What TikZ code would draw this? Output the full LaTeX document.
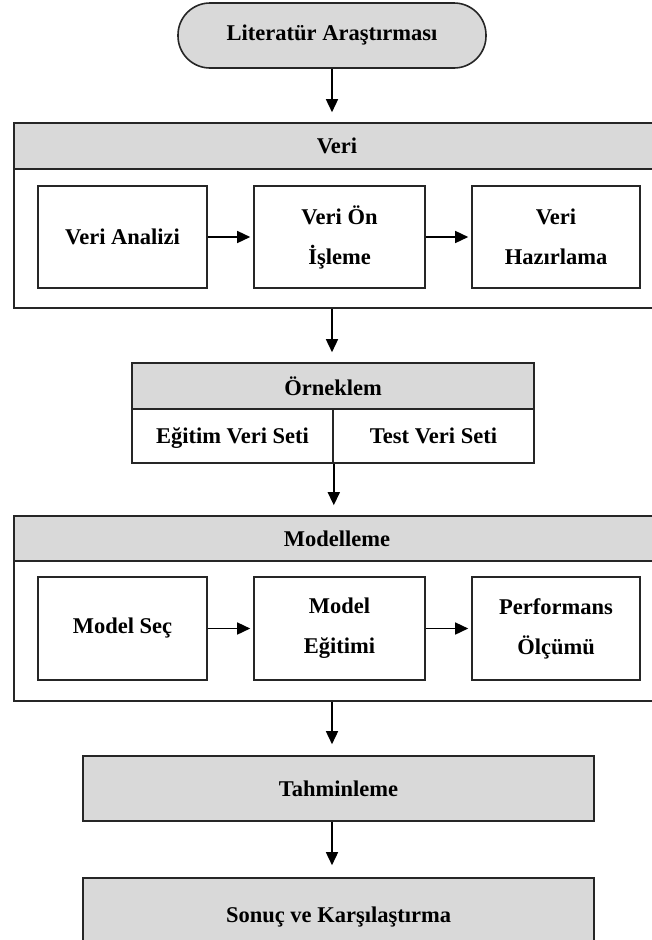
\documentclass[tikz,border=0pt]{standalone}
\usepackage{fontspec}
\setmainfont{Liberation Serif}
\usetikzlibrary{arrows.meta}
\definecolor{boxgray}{HTML}{D9D9D9}
\newcommand{\lbl}{\fontsize{22.5}{40}\selectfont\bfseries}
\tikzset{
  graybox/.style={draw=black!85, line width=1.6pt, fill=boxgray, inner sep=0pt, align=center, font=\lbl},
  whitebox/.style={draw=black!85, line width=1.6pt, fill=white, inner sep=0pt, align=center, font=\lbl},
  flow/.style={line width=1.5pt, -{Triangle[width=12pt,length=13pt]}}
}
\begin{document}
\begin{tikzpicture}[x=1pt, y=-1pt]
            \useasboundingbox (0,0) rectangle (651,940);
            % Start
            \node[graybox, rounded corners=32pt, minimum width=308pt, minimum height=65pt] (lit) at (332,35.5) {Literatür Araştırması};
            % Veri
            \node[graybox, minimum width=646pt, minimum height=46pt] (veriH) at (337,146) {Veri};
            \node[whitebox, minimum width=646pt, minimum height=139pt] (veriB) at (337,238.5) {};
            \node[whitebox, minimum width=169pt, minimum height=102pt] (analiz) at (122.5,237) {Veri Analizi};
            \node[whitebox, minimum width=171pt, minimum height=102pt] (onisle) at (339.5,237) {Veri Ön\\İşleme};
            \node[whitebox, minimum width=168pt, minimum height=102pt] (hazir) at (556,237) {Veri\\Hazırlama};
            % Örneklem
            \node[graybox, minimum width=402pt, minimum height=46pt] (ornH) at (333,386) {Örneklem};
            \node[whitebox, minimum width=201pt, minimum height=54pt, text height=15pt, text depth=0pt] (egitim) at (232.5,436) {Eğitim Veri Seti};
            \node[whitebox, minimum width=201pt, minimum height=54pt, text height=15pt, text depth=0pt] (test) at (433.5,436) {Test Veri Seti};
            % Modelleme
            \node[graybox, minimum width=646pt, minimum height=45pt] (modH) at (337,538.5) {Modelleme};
            \node[whitebox, minimum width=646pt, minimum height=140pt] (modB) at (337,631) {};
            \node[whitebox, minimum width=169pt, minimum height=103pt] (sec) at (122.5,628.5) {Model Seç};
            \node[whitebox, minimum width=171pt, minimum height=103pt] (egit) at (339.5,628.5) {Model\\Eğitimi};
            \node[whitebox, minimum width=168pt, minimum height=103pt] (perf) at (556,628.5) {Performans\\Ölçümü};
            % End
            \node[graybox, minimum width=511pt, minimum height=65pt] (tahmin) at (338.5,788.5) {Tahminleme};
            \node[graybox, minimum width=511pt, minimum height=78pt] (sonuc) at (338.5,917) {Sonuç ve Karşılaştırma};
            % Arrows
            \draw[flow, shorten >=10pt] (lit.south) -- (lit.south |- veriH.north);
            \draw[flow, shorten >=10pt] (veriB.south -| lit.south) -- (lit.south |- ornH.north);
            \draw[flow, shorten >=10pt] (egitim.south east) -- (egitim.south east |- modH.north);
            \draw[flow, shorten >=11pt] (modB.south -| lit.south) -- (lit.south |- tahmin.north);
            \draw[flow, shorten >=12pt] (tahmin.south -| lit.south) -- (lit.south |- sonuc.north);
            \draw[flow, shorten >=3pt] (analiz) -- (onisle);
            \draw[flow, shorten >=3pt] (onisle) -- (hazir);
            \draw[flow, shorten >=3pt] (sec) -- (egit);
            \draw[flow, shorten >=3pt] (egit) -- (perf);
\end{tikzpicture}
\end{document}
